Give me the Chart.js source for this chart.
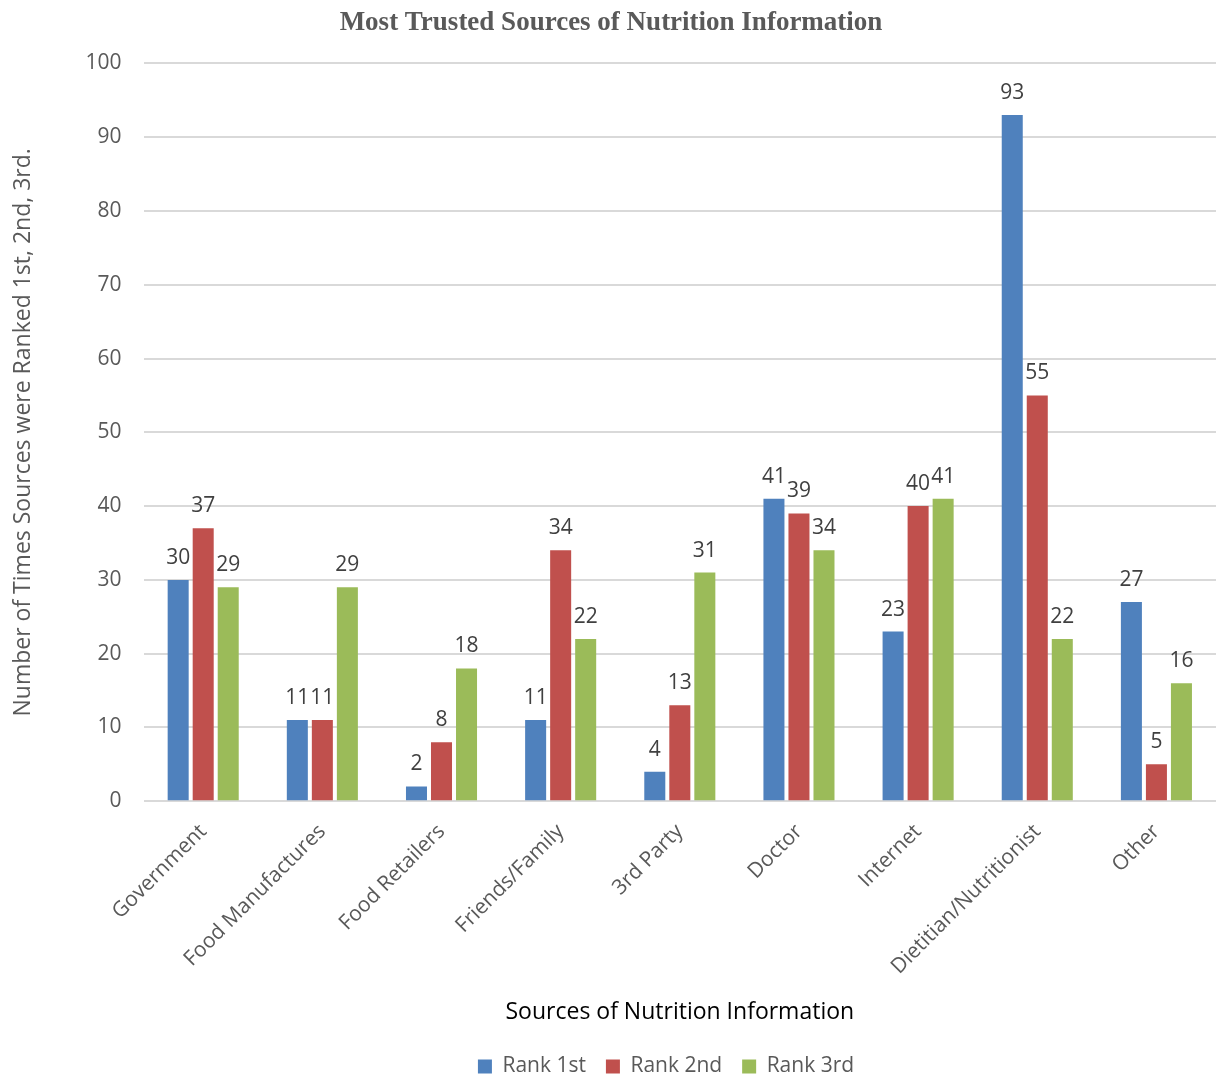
<!DOCTYPE html>
<html>
<head>
<meta charset="utf-8">
<script src="https://cdn.jsdelivr.net/npm/chart.js@4"></script>
<style>
  html, body { margin: 0; padding: 0; background: #fff; }
  #wrap { width: 1216px; height: 1076px; }
</style>
</head>
<body>
<div id="wrap"><canvas id="trustChart"></canvas></div>
<script>
const sources = ["Government", "Food Manufactures", "Food Retailers", "Friends/Family",
  "3rd Party", "Doctor", "Internet", "Dietitian/Nutritionist", "Other"];
const rank1st = [30, 11, 2, 11, 4, 41, 23, 93, 27];
const rank2nd = [37, 11, 8, 34, 13, 39, 40, 55, 5];
const rank3rd = [29, 29, 18, 22, 31, 34, 41, 22, 16];

const FONT = "'Open Sans', 'Noto Sans', sans-serif";

// value above each bar
const barLabels = {
  id: "barLabels",
  afterDatasetsDraw(chart) {
    const ctx = chart.ctx;
    ctx.save();
    ctx.font = "21px " + FONT;
    ctx.fillStyle = "#404040";
    ctx.textAlign = "center";
    ctx.textBaseline = "alphabetic";
    chart.data.datasets.forEach((ds, i) => {
      chart.getDatasetMeta(i).data.forEach((bar, j) => {
        ctx.fillText(ds.data[j], bar.x, bar.y - 16);
      });
    });
    ctx.restore();
  }
};

// nudge the legend right so it sits under the middle of the plot
const legendShift = {
  id: "legendShift",
  afterLayout(chart) {
    if (chart.legend) chart.legend.left += 110;
  }
};

new Chart(document.getElementById("trustChart"), {
  type: "bar",
  data: {
    labels: sources,
    datasets: [
      { label: "Rank 1st", data: rank1st, backgroundColor: "#4F81BD" },
      { label: "Rank 2nd", data: rank2nd, backgroundColor: "#C0504D" },
      { label: "Rank 3rd", data: rank3rd, backgroundColor: "#9BBB59" }
    ]
  },
  options: {
    responsive: true,
    maintainAspectRatio: false,
    animation: false,
    categoryPercentage: 0.63,
    barPercentage: 0.84,
    layout: { padding: { left: 6, right: 0, top: 2, bottom: -11 } },
    plugins: {
      title: {
        display: true,
        text: "Most Trusted Sources of Nutrition Information",
        color: "#595959",
        font: { family: "'Liberation Serif', 'Times New Roman', serif", size: 27, weight: "bold" },
        padding: { top: 5, bottom: 24 }
      },
      legend: {
        position: "bottom",
        labels: {
          color: "#595959",
          font: { family: FONT, size: 21 },
          boxWidth: 14,
          boxHeight: 14,
          padding: 20
        }
      },
      tooltip: { enabled: false }
    },
    scales: {
      x: {
        grid: { display: false },
        border: { display: false },
        ticks: {
          color: "#595959",
          font: { family: FONT, size: 21 },
          maxRotation: 45,
          minRotation: 45,
          padding: 10
        },
        title: {
          display: true,
          text: "Sources of Nutrition Information",
          color: "#000",
          font: { family: FONT, size: 23 },
          padding: { top: 9, bottom: 10 }
        }
      },
      y: {
        min: 0,
        max: 100,
        ticks: {
          stepSize: 10,
          color: "#595959",
          font: { family: FONT, size: 21 },
          padding: 22
        },
        grid: { color: "#D9D9D9", lineWidth: 2, drawTicks: false },
        border: { display: false },
        title: {
          display: true,
          text: "Number of Times Sources were Ranked 1st, 2nd, 3rd.",
          color: "#595959",
          font: { family: FONT, size: 23 },
          padding: { bottom: 26 }
        }
      }
    }
  },
  plugins: [barLabels, legendShift]
});
</script>
</body>
</html>
